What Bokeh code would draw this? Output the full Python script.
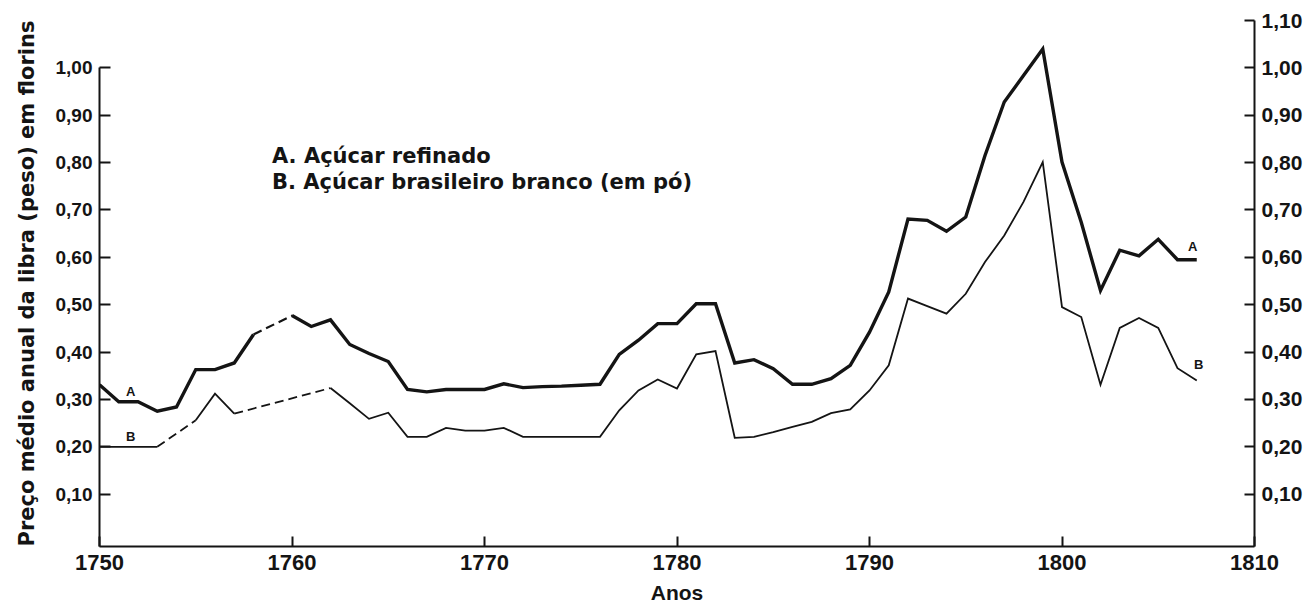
from bokeh.plotting import figure
from bokeh.models import (Range1d, LinearAxis, FixedTicker, CustomJSTickFormatter,
                          Label, ColumnDataSource)
from bokeh.embed import file_html
from bokeh.resources import INLINE
from bokeh.core.properties import value

# ---------------- data ----------------
years = list(range(1750, 1808))

# A. Açúcar refinado (None = ano sem dado, ligado por tracejado)
acucar_refinado = [
    0.331, 0.295, 0.295, 0.275, 0.284, 0.363, 0.363, 0.377, 0.437, None,   # 1750-1759
    0.477, 0.454, 0.468, 0.416, 0.397, 0.380, 0.321, 0.316, 0.321, 0.321,  # 1760-1769
    0.321, 0.333, 0.325, 0.327, 0.328, 0.330, 0.332, 0.395, 0.425, 0.460,  # 1770-1779
    0.460, 0.502, 0.502, 0.377, 0.384, 0.365, 0.332, 0.332, 0.344, 0.372,  # 1780-1789
    0.442, 0.527, 0.681, 0.678, 0.655, 0.685, 0.815, 0.928, 0.984, 1.040,  # 1790-1799
    0.801, 0.674, 0.530, 0.615, 0.603, 0.638, 0.595, 0.595,                # 1800-1807
]

# B. Açúcar brasileiro branco (em pó)
acucar_brasileiro = [
    0.200, 0.200, 0.200, 0.200, None, 0.256, 0.312, 0.270, None, None,     # 1750-1759
    None, None, 0.324, 0.292, 0.259, 0.272, 0.221, 0.221, 0.240, 0.234,    # 1760-1769
    0.234, 0.240, 0.221, 0.221, 0.221, 0.221, 0.221, 0.277, 0.319, 0.342,  # 1770-1779
    0.323, 0.395, 0.402, 0.219, 0.221, 0.231, 0.242, 0.2525, 0.271, 0.279, # 1780-1789
    0.319, 0.372, 0.513, 0.497, 0.481, 0.523, 0.590, 0.646, 0.717, 0.801,  # 1790-1799
    0.495, 0.474, 0.331, 0.451, 0.472, 0.451, 0.366, 0.340,                # 1800-1807
]

x_ticks = [1750, 1760, 1770, 1780, 1790, 1800, 1810]
y_ticks_left = [0.10, 0.20, 0.30, 0.40, 0.50, 0.60, 0.70, 0.80, 0.90, 1.00]
y_ticks_right = [0.10, 0.20, 0.30, 0.40, 0.50, 0.60, 0.70, 0.80, 0.90, 1.00, 1.10]
legend_lines = ["A.  Açúcar refinado", "B.  Açúcar brasileiro branco (em pó)"]
y_title = "Preço médio anual da libra (peso) em florins"
x_title = "Anos"

# ---------------- figure ----------------
Y0, Y1 = -0.0105, 1.10
INK = "#141414"
FONT = "Liberation Sans"
FONT_WIDE = "DejaVu Sans"

p = figure(frame_width=1155, frame_height=526, output_backend="svg", toolbar_location=None,
           x_range=Range1d(1750, 1810), y_range=Range1d(Y0, Y1),
           min_border_left=99, min_border_right=52, min_border_top=20,
           min_border_bottom=20, background_fill_color="white",
           border_fill_color="white")
p.outline_line_color = None
p.xgrid.grid_line_color = None
p.ygrid.grid_line_color = None

# bottom axis
xa = p.xaxis[0]
xa.ticker = FixedTicker(ticks=x_ticks)
xa.bounds = (1750, 1810)
xa.major_tick_in = 10
xa.major_tick_out = 0
xa.minor_tick_line_color = None
xa.axis_line_width = 2
xa.axis_line_color = INK
xa.major_tick_line_width = 2
xa.major_tick_line_color = INK
xa.major_label_standoff = 8
xa.major_label_text_font = FONT
xa.major_label_text_font_style = "bold"
xa.major_label_text_font_size = "22px"
xa.major_label_text_color = INK
xa.axis_label = x_title
xa.axis_label_text_font = FONT
xa.axis_label_text_font_style = "bold"
xa.axis_label_text_font_size = "21px"
xa.axis_label_text_color = INK
xa.axis_label_standoff = 8

fmt = CustomJSTickFormatter(code="return tick.toFixed(2).replace('.', ',')")

# left axis
ya = p.yaxis[0]
ya.ticker = FixedTicker(ticks=y_ticks_left)
ya.bounds = (Y0, 1.0)
ya.formatter = fmt
ya.major_tick_in = 11
ya.major_tick_out = 0
ya.minor_tick_line_color = None
ya.axis_line_width = 2
ya.axis_line_color = INK
ya.major_tick_line_width = 2
ya.major_tick_line_color = INK
ya.major_label_standoff = 7
ya.major_label_text_font = FONT
ya.major_label_text_font_style = "bold"
ya.major_label_text_font_size = "19px"
ya.major_label_text_color = INK
ya.axis_label = y_title
ya.axis_label_text_font = FONT_WIDE
ya.axis_label_text_font_style = "bold"
ya.axis_label_text_font_size = "21px"
ya.axis_label_text_color = INK
ya.axis_label_standoff = 14

# right axis
ra = LinearAxis(ticker=FixedTicker(ticks=y_ticks_right), formatter=fmt, bounds=(Y0, Y1))
ra.major_tick_in = 10
ra.major_tick_out = 0
ra.minor_tick_line_color = None
ra.axis_line_width = 2
ra.axis_line_color = INK
ra.major_tick_line_width = 2
ra.major_tick_line_color = INK
ra.major_label_standoff = 7
ra.major_label_text_font = FONT
ra.major_label_text_font_style = "bold"
ra.major_label_text_font_size = "21px"
ra.major_label_text_color = INK
p.add_layout(ra, "right")

# ---------------- lines ----------------
def solid(vals):
    return [float("nan") if v is None else v for v in vals]

def dashed_segments(vals):
    xs, ys = [], []
    last = None
    i = 0
    while i < len(vals):
        if vals[i] is None and last is not None:
            j = i
            while j < len(vals) and vals[j] is None:
                j += 1
            if j < len(vals):
                xs.append([years[last], years[j]])
                ys.append([vals[last], vals[j]])
            i = j
            continue
        if vals[i] is not None:
            last = i
        i += 1
    return xs, ys

p.line(years, solid(acucar_refinado), line_width=3.4, line_color=INK, line_join="miter")
p.line(years, solid(acucar_brasileiro), line_width=1.8, line_color=INK, line_join="miter")

dxa, dya = dashed_segments(acucar_refinado)
p.multi_line(dxa, dya, line_width=2.2, line_color=INK, line_dash="9 5")
dxb, dyb = dashed_segments(acucar_brasileiro)
p.multi_line(dxb, dyb, line_width=1.8, line_color=INK, line_dash="9 5")

# series labels on the curves
lab_src = ColumnDataSource(dict(
    x=[years[1], years[1], years[-1], years[-1]],
    y=[acucar_refinado[1], acucar_brasileiro[1], acucar_refinado[-1], acucar_brasileiro[-1]],
    t=["A", "B", "A", "B"],
    xo=[12, 12, -4, 2],
    yo=[-10, -10, -13, -16],
))
p.text(x="x", y="y", text="t", x_offset="xo", y_offset="yo", source=lab_src,
       text_font=value(FONT), text_font_style="bold", text_font_size="13px",
       text_color=INK, text_align="center", text_baseline="middle")

# legend text
for txt, yy in zip(legend_lines, [0.813, 0.760]):
    p.add_layout(Label(x=1758.96, y=yy, text=txt, text_font=FONT_WIDE,
                       text_font_style="bold", text_font_size="21px",
                       text_color=INK, text_baseline="middle", text_align="left"))

open("out.html", "w").write(file_html(p, INLINE))
